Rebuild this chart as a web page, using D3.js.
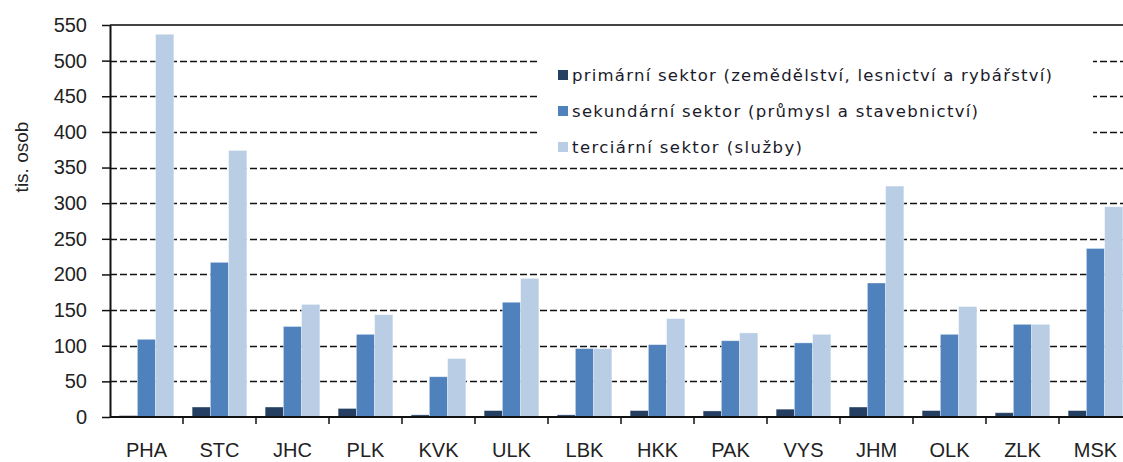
<!DOCTYPE html>
<html>
<head>
<meta charset="utf-8">
<script src="https://cdn.jsdelivr.net/npm/d3@7"></script>
<style>
  body { margin: 0; background: #fff; }
  svg { display: block; font-family: "Liberation Sans", Arial, sans-serif; }
</style>
</head>
<body>
<div id="chart"></div>
<script>
// data (thousands of persons)
var regions = ["PHA", "STC", "JHC", "PLK", "KVK", "ULK", "LBK", "HKK", "PAK", "VYS", "JHM", "OLK", "ZLK", "MSK"];
var primary = [2, 14, 14, 12, 3, 9, 3, 9, 8.5, 11, 14, 9, 6, 9];
var secondary = [109, 217, 127, 116, 56.5, 161, 96, 101.5, 107, 104, 188, 116, 130, 236.5];
var tertiary = [537, 374, 158, 143.5, 82, 194.5, 96, 138, 118, 116, 324, 155, 130, 295];
var seriesNames = ["primární sektor (zemědělství, lesnictví a rybářství)",
                   "sekundární sektor (průmysl a stavebnictví)",
                   "terciární sektor (služby)"];
var yTicks = [0, 50, 100, 150, 200, 250, 300, 350, 400, 450, 500, 550];

var width = 1123, height = 462;
var margin = {top: 25, left: 110, bottom: 45};
var plotRight = 1132; // the plot runs past the right edge of the picture
var colors = ["#243f62", "#4f81bd", "#b9cde5"];

var svg = d3.select("#chart").append("svg")
    .attr("width", width)
    .attr("height", height);

var x = d3.scaleBand()
    .domain(regions)
    .range([margin.left, plotRight])
    .paddingInner(0)
    .paddingOuter(0);

var x1 = d3.scaleBand()
    .domain([0, 1, 2])
    .range([0, x.bandwidth()])
    .paddingOuter(0.5)
    .paddingInner(0);

var y = d3.scaleLinear()
    .domain([0, 550])
    .range([height - margin.bottom, margin.top]);

// dashed gridlines
svg.append("g")
    .selectAll("line")
    .data(yTicks.filter(function (d) { return d > 0 && d < 550; }))
    .enter()
    .append("line")
    .attr("x1", margin.left)
    .attr("x2", plotRight)
    .attr("y1", function (d) { return Math.round(y(d)) + 0.5; })
    .attr("y2", function (d) { return Math.round(y(d)) + 0.5; })
    .attr("stroke", "#111")
    .attr("stroke-width", 1.3)
    .attr("stroke-dasharray", "7,3");

// top border
svg.append("line")
    .attr("x1", margin.left)
    .attr("x2", plotRight)
    .attr("y1", y(550))
    .attr("y2", y(550))
    .attr("stroke", "#444")
    .attr("stroke-width", 2);

// bars
var table = regions.map(function (r, i) {
    return {key: r, values: [primary[i], secondary[i], tertiary[i]]};
});

var groups = svg.append("g")
    .selectAll("g")
    .data(table)
    .enter()
    .append("g")
    .attr("transform", function (d) { return "translate(" + x(d.key) + ",0)"; });

groups.selectAll("rect")
    .data(function (d) { return d.values.map(function (v, k) { return {k: k, v: v}; }); })
    .enter()
    .append("rect")
    .attr("x", function (d) { return x1(d.k); })
    .attr("width", x1.bandwidth())
    .attr("y", function (d) { return y(d.v); })
    .attr("height", function (d) { return y(0) - y(d.v); })
    .attr("fill", function (d) { return colors[d.k]; })
    .attr("stroke", "#ffffff")
    .attr("stroke-opacity", 0.45)
    .attr("stroke-width", 0.8);

// legend box (white, covers the gridlines)
var legend = svg.append("g");
legend.append("rect")
    .attr("x", 537)
    .attr("y", 42)
    .attr("width", 556)
    .attr("height", 118)
    .attr("fill", "#fff");

var legendWidths = [480, 406, 230];
seriesNames.forEach(function (name, i) {
    var cy = 75 + i * 36;
    legend.append("rect")
        .attr("x", 558)
        .attr("y", cy - 5)
        .attr("width", 10)
        .attr("height", 10)
        .attr("fill", colors[i]);
    legend.append("text")
        .attr("x", 572)
        .attr("y", cy + 6)
        .attr("textLength", legendWidths[i])
        .attr("lengthAdjust", "spacing")
        .style("font-family", "'DejaVu Sans', Verdana, sans-serif")
        .style("font-size", "16.5px")
        .style("fill", "#1a1a2a")
        .text(name);
});

// y axis
var yAxis = svg.append("g")
    .attr("transform", "translate(" + margin.left + ",0)")
    .call(d3.axisLeft(y).tickValues(yTicks).tickSize(8).tickPadding(15).tickSizeOuter(0));
yAxis.select(".domain").attr("stroke", "#111").attr("stroke-width", 2);
yAxis.selectAll(".tick line").attr("stroke", "#111").attr("stroke-width", 1.5);
yAxis.selectAll("text")
    .style("font-size", "20px")
    .style("font-family", "Liberation Sans, Arial, sans-serif")
    .attr("fill", "#222");

// x axis, ticks between categories
var xAxis = svg.append("g")
    .attr("transform", "translate(0," + y(0) + ")");
xAxis.append("line")
    .attr("x1", margin.left)
    .attr("x2", plotRight)
    .attr("stroke", "#111")
    .attr("stroke-width", 2);
xAxis.selectAll(".tk")
    .data(regions.slice(1))
    .enter()
    .append("line")
    .attr("x1", function (d) { return x(d); })
    .attr("x2", function (d) { return x(d); })
    .attr("y1", 0)
    .attr("y2", 7)
    .attr("stroke", "#111")
    .attr("stroke-width", 1.5);
xAxis.selectAll("text")
    .data(regions)
    .enter()
    .append("text")
    .attr("x", function (d) { return x(d) + x.bandwidth() / 2; })
    .attr("y", 40)
    .attr("text-anchor", "middle")
    .style("font-size", "20px")
    .style("fill", "#222")
    .text(function (d) { return d; });

// y title
svg.append("text")
    .attr("transform", "translate(28,157) rotate(-90)")
    .attr("text-anchor", "middle")
    .style("font-size", "19px")
    .style("fill", "#222")
    .text("tis. osob");
</script>
</body>
</html>
